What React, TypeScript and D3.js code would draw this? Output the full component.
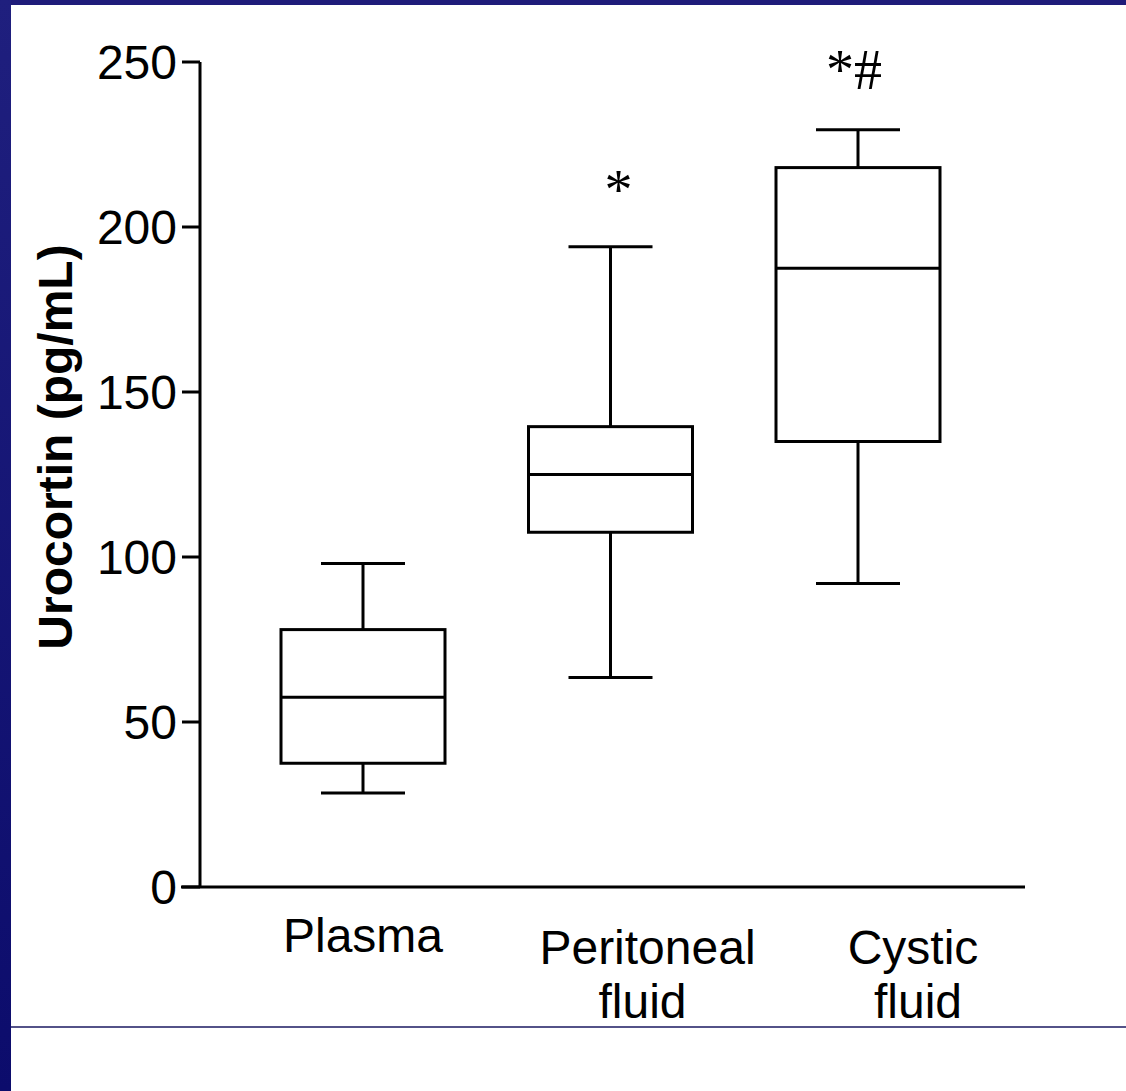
import React from "react";
import * as d3 from "d3";

const categories = ["Plasma", "Peritoneal fluid", "Cystic fluid"];
const labelLines = [["Plasma"], ["Peritoneal", "fluid"], ["Cystic", "fluid"]];
const whiskerLow = [28.5, 63.5, 92];
const q1 = [37.5, 107.5, 135];
const median = [57.5, 125, 187.5];
const q3 = [78, 139.5, 218];
const whiskerHigh = [98, 194, 229.5];
const annotations = ["", "*", "*#"];
const yTicks = [0, 50, 100, 150, 200, 250];

const W = 1126;
const H = 1091;

// label layout: horizontal shift of each label line relative to its box centre
const labelShift = [[0], [37, 32], [55, 60]];

export default function App() {
  const y = d3.scaleLinear().domain([0, 250]).range([887, 62]);
  const x = d3.scalePoint<string>().domain(categories).range([363, 858]);
  const boxW = 164;
  const capW = 84;
  const font = "'Liberation Sans', Arial, sans-serif";
  const sw = 3;
  return (
    <svg
      width={W}
      height={H}
      style={{ position: "absolute", left: 0, top: 0 }}
    >
      <defs>
        <linearGradient id="navy" x1="0" y1="0" x2="0" y2="1">
          <stop offset="0" stopColor="#1f1f7e" />
          <stop offset="1" stopColor="#0c0c6c" />
        </linearGradient>
      </defs>
      <rect x={0} y={0} width={W} height={H} fill="#fff" />
      <rect x={0} y={0} width={W} height={5} fill="#1f1c7a" />
      <rect x={0} y={0} width={11} height={H} fill="url(#navy)" />
      <line x1={11} x2={W} y1={1027} y2={1027} stroke="#1a1860" strokeWidth={1.5} />

      {/* y axis */}
      <line x1={200} x2={200} y1={y(250)} y2={y(0)} stroke="#000" strokeWidth={sw} />
      {yTicks.map((t) => (
        <g key={t}>
          <line x1={182} x2={200} y1={y(t)} y2={y(t)} stroke="#000" strokeWidth={sw} />
          <text
            x={177}
            y={y(t)}
            dy="0.36em"
            textAnchor="end"
            fontFamily={font}
            fontSize={48}
            fill="#000"
          >
            {t}
          </text>
        </g>
      ))}
      {/* x axis */}
      <line x1={181} x2={1025} y1={y(0)} y2={y(0)} stroke="#000" strokeWidth={sw} />

      <text
        transform={`translate(72,447) rotate(-90)`}
        textAnchor="middle"
        fontFamily={font}
        fontWeight="bold"
        fontSize={48}
        fill="#000"
      >
        Urocortin (pg/mL)
      </text>

      {categories.map((c, i) => {
        const cx = x(c)!;
        return (
          <g key={c} fill="none" stroke="#000" strokeWidth={sw}>
            <line x1={cx} x2={cx} y1={y(whiskerLow[i])} y2={y(q1[i])} />
            <line x1={cx} x2={cx} y1={y(q3[i])} y2={y(whiskerHigh[i])} />
            <line x1={cx - capW / 2} x2={cx + capW / 2} y1={y(whiskerLow[i])} y2={y(whiskerLow[i])} />
            <line x1={cx - capW / 2} x2={cx + capW / 2} y1={y(whiskerHigh[i])} y2={y(whiskerHigh[i])} />
            <rect x={cx - boxW / 2} y={y(q3[i])} width={boxW} height={y(q1[i]) - y(q3[i])} />
            <line x1={cx - boxW / 2} x2={cx + boxW / 2} y1={y(median[i])} y2={y(median[i])} />
          </g>
        );
      })}

      {categories.map((c, i) => {
        const cx = x(c)!;
        const lines = labelLines[i];
        return (
          <text
            key={c + "lbl"}
            textAnchor="middle"
            fontFamily={font}
            fontSize={48}
            fill="#000"
          >
            {lines.map((l, j) => (
              <tspan key={j} x={cx + labelShift[i][j]} y={(lines.length === 1 ? 952 : 964) + j * 54}>
                {l}
              </tspan>
            ))}
          </text>
        );
      })}

      {categories.map((c, i) =>
        annotations[i] ? (
          <text
            key={c + "ann"}
            x={x(c)! - (annotations[i].length > 1 ? 4 : -8)}
            y={i === 1 ? 209 : 89}
            textAnchor="middle"
            fontFamily="'Liberation Serif', 'Times New Roman', serif"
            fontSize={56}
            fill="#000"
          >
            {annotations[i]}
          </text>
        ) : null
      )}
    </svg>
  );
}
